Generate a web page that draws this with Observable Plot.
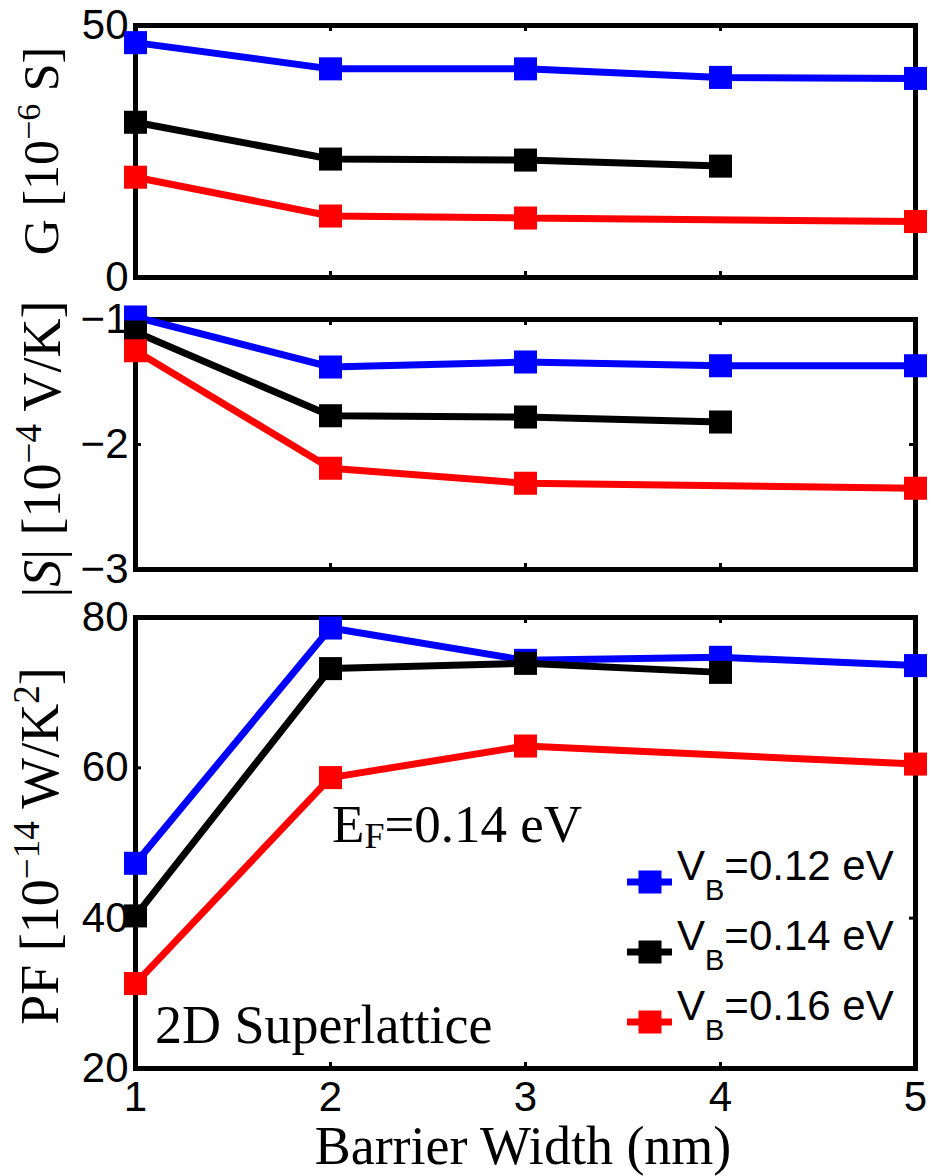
<!DOCTYPE html>
<html><head><meta charset="utf-8">
<script src="https://cdn.jsdelivr.net/npm/d3@7"></script>
<script src="https://cdn.jsdelivr.net/npm/@observablehq/plot@0.6"></script>
<style>
body{margin:0;background:#fff}
#chart{width:931px;height:1176px;position:relative}
#chart svg{display:block}
</style>
</head><body><div id="chart"></div>
<script>
// ---- data ----
const barrierWidth = [1, 2, 3, 4, 5];
const xTickValues = [1, 2, 3, 4, 5];
const seriesKeys = ["0.12", "0.14", "0.16"];
const seriesColors = ["#0000ff", "#000000", "#ff0000"];

// G [1e-6 S]
const G_012 = [46.6, 41.4, 41.4, 39.7, 39.5];
const G_014 = [30.8, 23.5, 23.3, 22.1, null];
const G_016 = [19.9, 12.2, 11.8, null, 11.1];
// |S| [1e-4 V/K]
const S_012 = [-0.98, -1.38, -1.34, -1.37, -1.37];
const S_014 = [-1.10, -1.77, -1.78, -1.82, null];
const S_016 = [-1.25, -2.19, -2.31, null, -2.35];
// PF [1e-14 W/K^2]
const PF_012 = [47.3, 78.6, 74.3, 74.7, 73.6];
const PF_014 = [40.3, 73.2, 73.9, 72.7, null];
const PF_016 = [31.3, 58.7, 62.9, null, 60.5];

const gTicks = [0, 50];
const sTicks = [-1, -2, -3];
const pfTicks = [20, 40, 60, 80];

// ---- helpers ----
const W = 931, ML = 135, MR = 16;
const SANS = "'Liberation Sans', Arial, Helvetica, sans-serif";
const SERIF = "'Liberation Serif', 'Times New Roman', serif";
const intFmt = d => (d < 0 ? "\u2212" : "") + Math.abs(d);

function rowsOf(lists) {
  return seriesKeys.map((k, i) =>
    lists[i].map((v, j) => ({x: barrierWidth[j], y: v, s: k})).filter(d => d.y != null));
}

function panel({lists, domain, ticks, height, mt, mb, showX}) {
  const innerH = height - mt - mb, innerW = W - ML - MR;
  const [lo, hi] = domain;
  const tly = (hi - lo) * 6 / innerH;
  const tlx = (5 - 1) * 6 / innerW;
  const inner = ticks.filter(t => t !== lo && t !== hi);
  const xInner = xTickValues.filter(t => t !== 1 && t !== 5);
  const series = rowsOf(lists);
  const marks = [
    Plot.ruleX(xInner, {y1: lo, y2: lo + tly, strokeWidth: 3}),
    Plot.ruleX(xInner, {y1: hi, y2: hi - tly, strokeWidth: 3}),
    Plot.ruleY(inner, {x1: 1, x2: 1 + tlx, strokeWidth: 3}),
    Plot.ruleY(inner, {x1: 5, x2: 5 - tlx, strokeWidth: 3}),
    Plot.frame({stroke: "black", strokeWidth: 5}),
    Plot.axisY({ticks, tickFormat: intFmt, tickSize: 0, tickPadding: 7, fontSize: 42, fontFamily: SANS, label: null}),
  ];
  if (showX) marks.push(Plot.axisX({ticks: xTickValues, tickFormat: intFmt, tickSize: 0, tickPadding: 13, fontSize: 42, fontFamily: SANS, label: null}));
  series.forEach((rows, i) => {
    marks.push(Plot.line(rows, {x: "x", y: "y", stroke: seriesColors[i], strokeWidth: 7, strokeLinejoin: "miter"}));
    marks.push(Plot.dot(rows, {x: "x", y: "y", symbol: "square", r: 13, fill: seriesColors[i], stroke: "none"}));
  });
  return Plot.plot({
    width: W, height, marginLeft: ML, marginRight: MR, marginTop: mt, marginBottom: mb,
    x: {domain: [1, 5], axis: null},
    y: {domain, axis: null},
    style: {background: "white", color: "black", overflow: "visible"},
    marks
  });
}

function yTitle(svg, cx, cy, size, parts) {
  const t = d3.select(svg).append("text")
    .attr("transform", `translate(${cx},${cy}) rotate(-90)`)
    .attr("text-anchor", "middle")
    .attr("font-family", SERIF).attr("font-size", size).attr("fill", "black");
  parts.forEach(p => {
    const ts = t.append("tspan").text(p.t);
    if (p.sup) ts.attr("font-size", Math.round(size * 0.68)).attr("baseline-shift", Math.round(size * 0.36));
    if (p.it) ts.attr("font-style", "italic");
  });
}

const chart = document.getElementById("chart");

const p1 = panel({lists: [G_012, G_014, G_016], domain: [0, 50], ticks: gTicks, height: 298, mt: 25, mb: 21, showX: false});
const p2 = panel({lists: [S_012, S_014, S_016], domain: [-3, -1], ticks: sTicks, height: 294, mt: 21, mb: 23, showX: false});
const p3 = panel({lists: [PF_012, PF_014, PF_016], domain: [20, 80], ticks: pfTicks, height: 584, mt: 25, mb: 108, showX: true});
chart.append(p1, p2, p3);

yTitle(p1, 58, 151, 50, [{t: "G [10"}, {t: "\u22126", sup: true}, {t: " S]"}]);
yTitle(p2, 60, 151, 54, [{t: "|"}, {t: "S", it: true}, {t: "| [10"}, {t: "\u22124", sup: true}, {t: " V/K]"}]);
yTitle(p3, 58, 254, 54, [{t: "PF [10"}, {t: "\u221214", sup: true}, {t: " W/K"}, {t: "2", sup: true}, {t: "]"}]);

const s3 = d3.select(p3);
// x title
s3.append("text").attr("x", 523).attr("y", 572).attr("text-anchor", "middle")
  .attr("font-family", SERIF).attr("font-size", 54).attr("fill", "black").text("Barrier Width (nm)");
// E_F annotation
{
  const t = s3.append("text").attr("x", 332).attr("y", 250).attr("text-anchor", "start")
    .attr("font-family", SERIF).attr("font-size", 53).attr("fill", "black");
  t.append("tspan").text("E");
  t.append("tspan").text("F").attr("font-size", 36).attr("baseline-shift", "-6");
  t.append("tspan").text("=0.14 eV");
}
// 2D Superlattice
s3.append("text").attr("x", 155).attr("y", 451).attr("text-anchor", "start")
  .attr("font-family", SERIF).attr("font-size", 54).attr("fill", "black").text("2D Superlattice");

// legend
seriesKeys.forEach((k, i) => {
  const cy = 290 + i * 70;
  s3.append("line").attr("x1", 627).attr("x2", 672).attr("y1", cy).attr("y2", cy)
    .attr("stroke", seriesColors[i]).attr("stroke-width", 7);
  s3.append("rect").attr("x", 650 - 11.5).attr("y", cy - 11.5).attr("width", 23).attr("height", 23)
    .attr("fill", seriesColors[i]);
  const t = s3.append("text").attr("x", 677).attr("y", cy - 2).attr("text-anchor", "start")
    .attr("font-family", SANS).attr("font-size", 42).attr("fill", "black");
  t.append("tspan").text("V");
  t.append("tspan").text("B").attr("font-size", 29).attr("baseline-shift", "-20");
  t.append("tspan").text("=" + k + " eV");
});
</script>
</body></html>
